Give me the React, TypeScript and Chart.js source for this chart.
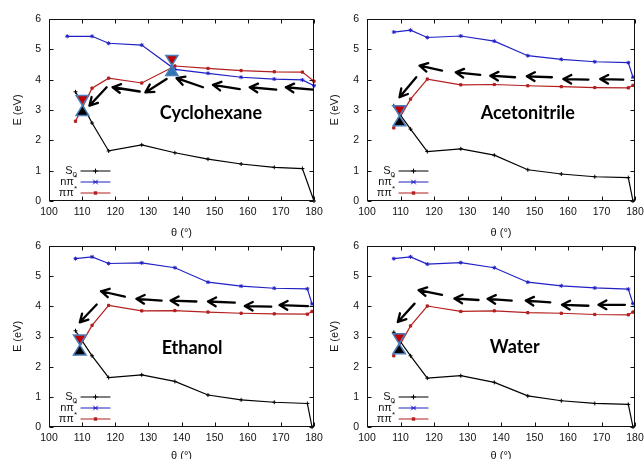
import React, { useEffect, useRef } from "react";
import { Chart, registerables } from "chart.js";

Chart.register(...registerables);

// ---------------- DATA ----------------
// Cyclohexane
const cyThetaS0 = [108, 113, 118, 128, 138, 148, 158, 168, 176.5, 180];
const cyS0 = [3.6, 2.57, 1.65, 1.85, 1.59, 1.38, 1.22, 1.11, 1.07, 0.0];
const cyThetaNpi = [105.5, 113, 118, 128, 138, 148, 158, 168, 176.5, 180];
const cyNpi = [5.43, 5.43, 5.2, 5.14, 4.34, 4.21, 4.08, 4.02, 3.99, 3.8];
const cyThetaPipi = [108, 113, 118, 128, 138, 148, 158, 168, 176.5, 180];
const cyPipi = [2.63, 3.72, 4.05, 3.89, 4.45, 4.37, 4.3, 4.26, 4.25, 3.95];

// Acetonitrile
const acTheta = [108, 113, 118, 128, 138, 148, 158, 168, 178, 179.4];
const acS0 = [3.14, 2.37, 1.63, 1.72, 1.51, 1.03, 0.89, 0.8, 0.77, 0.0];
const acNpi = [5.57, 5.63, 5.39, 5.44, 5.27, 4.79, 4.67, 4.59, 4.56, 4.08];
const acPipi = [2.41, 3.36, 4.02, 3.83, 3.84, 3.8, 3.77, 3.74, 3.73, 3.81];

// Ethanol
const etTheta = [108, 113, 118, 128, 138, 148, 158, 168, 178, 179.4];
const etS0 = [3.19, 2.36, 1.64, 1.73, 1.51, 1.06, 0.9, 0.82, 0.78, 0.0];
const etNpi = [5.58, 5.64, 5.42, 5.44, 5.28, 4.8, 4.67, 4.6, 4.58, 4.08];
const etPipi = [2.42, 3.37, 4.03, 3.85, 3.86, 3.81, 3.77, 3.75, 3.74, 3.83];

// Water
const waTheta = [108, 113, 118, 128, 138, 148, 158, 168, 178, 179.4];
const waS0 = [3.14, 2.36, 1.62, 1.7, 1.48, 1.03, 0.87, 0.78, 0.75, 0.0];
const waNpi = [5.58, 5.64, 5.4, 5.45, 5.28, 4.8, 4.68, 4.61, 4.57, 4.09];
const waPipi = [2.36, 3.35, 4.01, 3.83, 3.85, 3.79, 3.77, 3.73, 3.72, 3.81];

// Arrows: [tailTheta, tailE, headTheta, headE]
const cyArrows = [
  [179.7, 3.67, 171.5, 3.75],
  [168.6, 3.67, 160.6, 3.75],
  [157.6, 3.69, 149.5, 3.83],
  [146.5, 3.75, 138.5, 4.05],
  [135.5, 4.02, 129.1, 3.58],
  [127.4, 3.61, 119.2, 3.75],
  [117.4, 3.75, 112.2, 3.14],
];
const acArrows = [
  [176.5, 4.0, 169.6, 4.02],
  [166.1, 4.0, 158.6, 4.02],
  [155.2, 4.08, 147.7, 4.11],
  [144.2, 4.08, 136.8, 4.13],
  [133.8, 4.16, 126.5, 4.24],
  [122.4, 4.3, 115.7, 4.46],
  [114.7, 4.08, 109.7, 3.42],
];
const etArrows = [
  [178.2, 4.01, 169.6, 4.04],
  [167.1, 3.99, 159.1, 4.01],
  [156.1, 4.12, 148.0, 4.16],
  [144.5, 4.16, 136.7, 4.19],
  [134.0, 4.19, 126.4, 4.25],
  [122.9, 4.32, 115.7, 4.5],
  [114.4, 4.06, 109.3, 3.47],
];
const waArrows = [
  [177.0, 4.05, 169.1, 4.05],
  [166.1, 4.02, 158.2, 4.05],
  [154.7, 4.13, 147.4, 4.19],
  [143.2, 4.19, 136.0, 4.25],
  [133.3, 4.21, 126.1, 4.26],
  [122.4, 4.38, 115.4, 4.54],
  [114.2, 4.09, 109.2, 3.48],
];

// Conical intersections (hourglass): [theta, E, lower-half kind]
const cyCI = [
  [110.1, 3.15, "s0"],
  [137.1, 4.47, "npi"],
];
const acCI = [[109.7, 2.81, "s0"]];
const etCI = [[109.3, 2.72, "s0"]];
const waCI = [[109.6, 2.76, "s0"]];

// Solvent labels: [text, theta, E]
const cyLabel = ["Cyclohexane", 148.9, 2.89];
const acLabel = ["Acetonitrile", 148.0, 2.88];
const etLabel = ["Ethanol", 143.2, 2.61];
const waLabel = ["Water", 144.1, 2.65];

const legendNames = [
  ["S", "0", ""],
  ["nπ", "", "*"],
  ["ππ", "", "*"],
];

const xTitle = "θ (°)";
const yTitle = "E (eV)";

// ---------------- STYLE ----------------
const BLACK = "#000000";
const BLUE = "#2020c4";
const RED = "#b41e1e";
const CI_RED = "#c00000";
const CI_BLUE = "#2e75b6";
const CI_EDGE = "#4a7ebb";
const SANS = "'Liberation Sans', Arial, Helvetica, sans-serif";

function drawMarker(ctx: CanvasRenderingContext2D, kind: string, x: number, y: number, color: string) {
  ctx.save();
  ctx.strokeStyle = color;
  ctx.fillStyle = color;
  ctx.lineWidth = 1;
  const r = 2;
  ctx.beginPath();
  if (kind === "cross") {
    ctx.moveTo(x - r, y);
    ctx.lineTo(x + r, y);
    ctx.moveTo(x, y - r);
    ctx.lineTo(x, y + r);
    ctx.stroke();
  } else if (kind === "star") {
    ctx.moveTo(x - r, y - r);
    ctx.lineTo(x + r, y + r);
    ctx.moveTo(x - r, y + r);
    ctx.lineTo(x + r, y - r);
    ctx.moveTo(x - r, y);
    ctx.lineTo(x + r, y);
    ctx.stroke();
  } else {
    ctx.fillRect(x - 1.7, y - 1.7, 3.4, 3.4);
  }
  ctx.restore();
}

const decorPlugin = {
  id: "decor",
  afterDatasetsDraw(chart: any, _args: any, opts: any) {
    const { ctx, chartArea: a, scales } = chart;
    const xs = scales.x;
    const ys = scales.y;
    ctx.save();

    // frame
    ctx.strokeStyle = "#111";
    ctx.lineWidth = 1;
    const L = Math.round(a.left) + 0.5;
    const R = Math.round(a.right) - 0.5;
    const T = Math.round(a.top) + 0.5;
    const B = Math.round(a.bottom) - 0.5;
    ctx.strokeRect(L, T, R - L, B - T);

    // inward ticks on all four sides
    ctx.beginPath();
    const tl = 4;
    xs.ticks.forEach((t: any) => {
      const px = Math.round(xs.getPixelForValue(t.value)) + 0.5;
      ctx.moveTo(px, B);
      ctx.lineTo(px, B - tl);
      ctx.moveTo(px, T);
      ctx.lineTo(px, T + tl);
    });
    ys.ticks.forEach((t: any) => {
      const py = Math.round(ys.getPixelForValue(t.value)) + 0.5;
      ctx.moveTo(L, py);
      ctx.lineTo(L + tl, py);
      ctx.moveTo(R, py);
      ctx.lineTo(R - tl, py);
    });
    ctx.stroke();

    // arrows
    ctx.strokeStyle = "#000";
    ctx.lineWidth = 2.3;
    ctx.lineCap = "round";
    ctx.lineJoin = "round";
    (opts.arrows || []).forEach((ar: number[]) => {
      const x1 = xs.getPixelForValue(ar[0]);
      const y1 = ys.getPixelForValue(ar[1]);
      const x2 = xs.getPixelForValue(ar[2]);
      const y2 = ys.getPixelForValue(ar[3]);
      const ang = Math.atan2(y2 - y1, x2 - x1);
      const hl = 9;
      const sp = 0.5;
      ctx.beginPath();
      ctx.moveTo(x1, y1);
      ctx.lineTo(x2, y2);
      ctx.moveTo(x2 - hl * Math.cos(ang - sp), y2 - hl * Math.sin(ang - sp));
      ctx.lineTo(x2, y2);
      ctx.lineTo(x2 - hl * Math.cos(ang + sp), y2 - hl * Math.sin(ang + sp));
      ctx.stroke();
    });

    // conical intersection hourglasses
    (opts.ci || []).forEach((c: any[]) => {
      const cx = xs.getPixelForValue(c[0]);
      const cy = ys.getPixelForValue(c[1]);
      const w = c[2] === "npi" ? 6 : 6.3;
      const h = 10;
      ctx.lineWidth = 1.5;
      ctx.strokeStyle = CI_EDGE;
      ctx.lineJoin = "miter";
      // top (red, pointing down)
      ctx.beginPath();
      ctx.moveTo(cx - w, cy - h);
      ctx.lineTo(cx + w, cy - h);
      ctx.lineTo(cx, cy);
      ctx.closePath();
      ctx.fillStyle = CI_RED;
      ctx.fill();
      ctx.stroke();
      // bottom (pointing up)
      ctx.beginPath();
      ctx.moveTo(cx, cy);
      ctx.lineTo(cx - w, cy + h);
      ctx.lineTo(cx + w, cy + h);
      ctx.closePath();
      ctx.fillStyle = c[2] === "npi" ? CI_BLUE : "#000";
      ctx.fill();
      ctx.stroke();
    });

    // solvent label
    if (opts.label) {
      const lb = opts.label;
      ctx.fillStyle = "#000";
      ctx.font = "bold 18px Lato, 'Open Sans', sans-serif";
      ctx.textAlign = "center";
      ctx.textBaseline = "middle";
      ctx.fillText(lb[0], xs.getPixelForValue(lb[1]), ys.getPixelForValue(lb[2]));
    }

    // legend (gnuplot style key, bottom-left)
    const colors = [BLACK, BLUE, RED];
    const marks = ["cross", "star", "rect"];
    const offs = [30, 19, 8];
    legendNames.forEach((nm, i) => {
      const ry = a.bottom - offs[i];
      const textRight = a.left + 28;
      ctx.fillStyle = "#111";
      ctx.textBaseline = "middle";
      ctx.textAlign = "left";
      const mainFont = `11px ${SANS}`;
      const smallFont = `8px ${SANS}`;
      ctx.font = mainFont;
      const mw = ctx.measureText(nm[0]).width;
      ctx.font = smallFont;
      const sw = ctx.measureText(nm[1] || nm[2]).width;
      const x0 = textRight - mw - sw;
      ctx.font = mainFont;
      ctx.fillText(nm[0], x0, ry);
      ctx.font = smallFont;
      if (nm[1]) ctx.fillText(nm[1], x0 + mw, ry + 4);
      if (nm[2]) ctx.fillText(nm[2], x0 + mw, ry - 4);
      ctx.strokeStyle = colors[i];
      ctx.lineWidth = 1.2;
      ctx.beginPath();
      ctx.moveTo(a.left + 32, ry);
      ctx.lineTo(a.left + 61, ry);
      ctx.stroke();
      drawMarker(ctx, marks[i], a.left + 46.5, ry, colors[i]);
    });

    ctx.restore();
  },
};

function zip(xs: number[], ys: number[]) {
  return xs.map((x, i) => ({ x, y: ys[i] }));
}

type PanelCfg = {
  left: number;
  top: number;
  plotW: number;
  plotH: number;
  xTitlePad: number;
  yTitlePad: number;
  s0: { x: number; y: number }[];
  npi: { x: number; y: number }[];
  pipi: { x: number; y: number }[];
  arrows: number[][];
  ci: any[];
  label: any[];
};

function Panel({ cfg }: { cfg: PanelCfg }) {
  const ref = useRef<HTMLCanvasElement>(null);
  const W = 49 + cfg.plotW + 20;
  const H = 19 + cfg.plotH + 40;
  useEffect(() => {
    const tickFont = { family: SANS, size: 10.5 };
    const ds = (label: string, data: any[], color: string, ps: string) => ({
      label,
      data,
      borderColor: color,
      backgroundColor: color,
      borderWidth: 1.2,
      pointStyle: ps,
      pointRadius: ps === "rect" ? 1.6 : 2,
      pointBorderWidth: 1,
      pointBackgroundColor: color,
      pointBorderColor: color,
      tension: 0,
      clip: false,
    });
    const chart = new Chart(ref.current as HTMLCanvasElement, {
      type: "line",
      data: {
        datasets: [
          ds("S0", cfg.s0, BLACK, "cross"),
          ds("nπ*", cfg.npi, BLUE, "star"),
          ds("ππ*", cfg.pipi, RED, "rect"),
        ] as any,
      },
      options: {
        responsive: false,
        animation: false,
        devicePixelRatio: 1,
        events: [],
        layout: { padding: { left: 0, top: 19, right: 20, bottom: 0 } },
        plugins: {
          legend: { display: false },
          tooltip: { enabled: false },
          decor: { arrows: cfg.arrows, ci: cfg.ci, label: cfg.label },
        } as any,
        scales: {
          x: {
            type: "linear",
            min: 100,
            max: 180,
            ticks: { stepSize: 10, font: tickFont, color: "#111", padding: 5, maxRotation: 0, autoSkip: false },
            grid: { display: false, drawTicks: false },
            border: { display: false },
            title: {
              display: true,
              text: xTitle,
              font: { family: SANS, size: 11 },
              color: "#111",
              padding: { top: 0, bottom: cfg.xTitlePad },
            },
            afterFit: (s: any) => {
              s.height = 40;
            },
          },
          y: {
            type: "linear",
            min: 0,
            max: 6,
            ticks: { stepSize: 1, font: tickFont, color: "#111", padding: 8 },
            grid: { display: false, drawTicks: false },
            border: { display: false },
            title: {
              display: true,
              text: yTitle,
              font: { family: SANS, size: 11 },
              color: "#111",
              padding: { top: cfg.yTitlePad, bottom: 0 },
            },
            afterFit: (s: any) => {
              s.width = 49;
            },
          },
        },
      } as any,
      plugins: [decorPlugin],
    });
    return () => chart.destroy();
  }, []);
  return (
    <canvas
      ref={ref}
      width={W}
      height={H}
      style={{ position: "absolute", left: cfg.left - 49, top: cfg.top - 19, width: W, height: H }}
    />
  );
}

const panels: PanelCfg[] = [
  {
    left: 49, top: 19, plotW: 265, plotH: 182, xTitlePad: 1.5, yTitlePad: 11.4,
    s0: zip(cyThetaS0, cyS0), npi: zip(cyThetaNpi, cyNpi), pipi: zip(cyThetaPipi, cyPipi),
    arrows: cyArrows, ci: cyCI, label: cyLabel,
  },
  {
    left: 367, top: 19, plotW: 268, plotH: 182, xTitlePad: 1.5, yTitlePad: 9.9,
    s0: zip(acTheta, acS0), npi: zip(acTheta, acNpi), pipi: zip(acTheta, acPipi),
    arrows: acArrows, ci: acCI, label: acLabel,
  },
  {
    left: 49, top: 246, plotW: 265, plotH: 181, xTitlePad: 4.5, yTitlePad: 11.4,
    s0: zip(etTheta, etS0), npi: zip(etTheta, etNpi), pipi: zip(etTheta, etPipi),
    arrows: etArrows, ci: etCI, label: etLabel,
  },
  {
    left: 367, top: 246, plotW: 268, plotH: 181, xTitlePad: 4.5, yTitlePad: 9.9,
    s0: zip(waTheta, waS0), npi: zip(waTheta, waNpi), pipi: zip(waTheta, waPipi),
    arrows: waArrows, ci: waCI, label: waLabel,
  },
];

export default function App() {
  return (
    <div
      style={{
        position: "absolute",
        left: 0,
        top: 0,
        width: 644,
        height: 459,
        overflow: "hidden",
        background: "#fff",
      }}
    >
      {panels.map((p, i) => (
        <Panel key={i} cfg={p} />
      ))}
    </div>
  );
}
